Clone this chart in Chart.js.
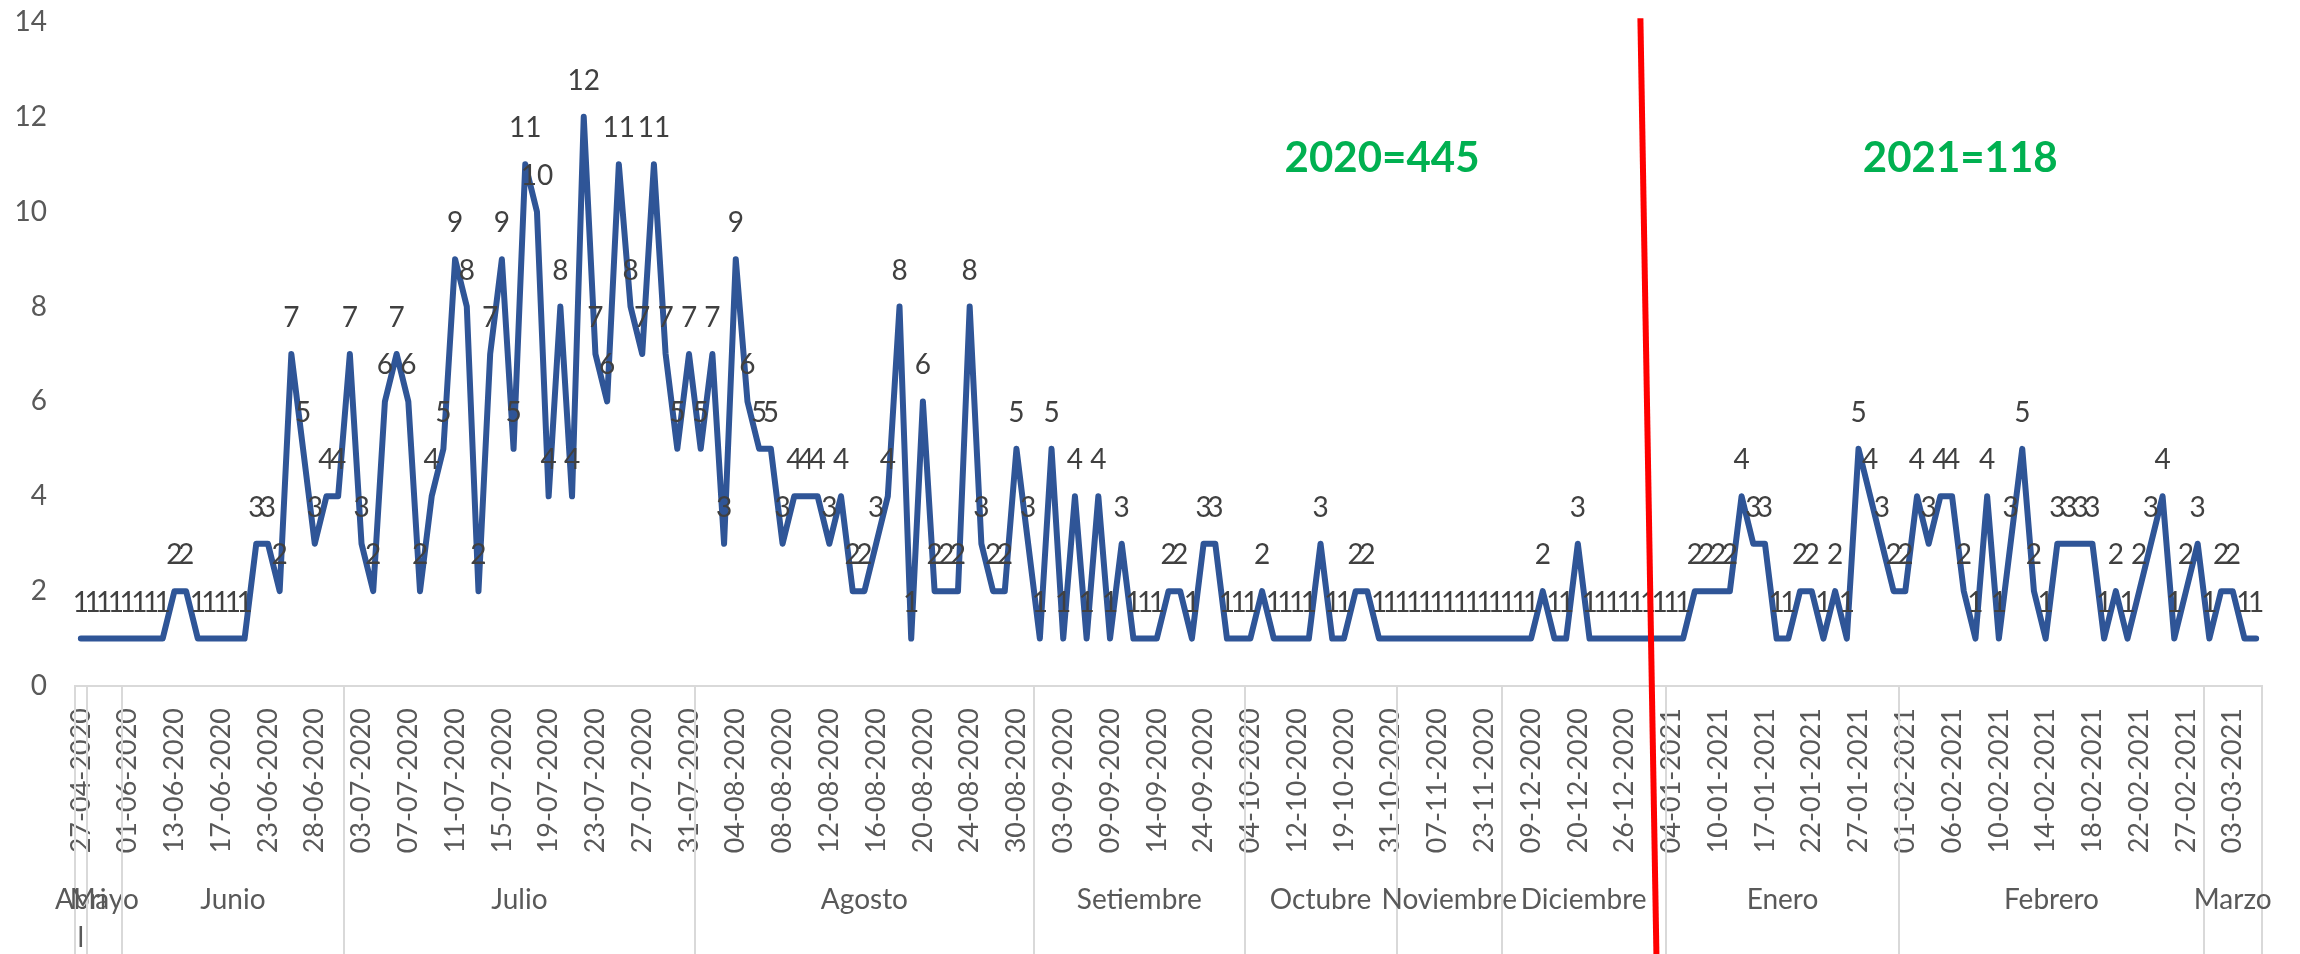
<!DOCTYPE html>
<html>
<head>
<meta charset="utf-8">
<script src="https://cdn.jsdelivr.net/npm/chart.js@4.4.1/dist/chart.umd.min.js"></script>
<style>
html,body{margin:0;padding:0;background:#ffffff;}
canvas{display:block;}
</style>
</head>
<body>
<canvas id="chart" width="2300" height="954"></canvas>
<script>
// ---------- DATA ----------
const monthNames = ["Abril","Mayo","Junio","Julio","Agosto","Setiembre","Octubre","Noviembre","Diciembre","Enero","Febrero","Marzo"];
const monthNumbers = [4,5,6,7,8,9,10,11,12,1,2,3];
const monthYears = [2020,2020,2020,2020,2020,2020,2020,2020,2020,2021,2021,2021];
const daysAbril = [27];
const daysMayo = [5,15,25];
const daysJunio = [1,5,9,11,13,14,15,16,17,19,20,22,23,24,25,26,28,29,30];
const daysJulio = [2,3,4,5,6,7,8,9,10,11,12,13,14,15,16,17,18,19,20,21,22,23,24,25,26,27,28,29,30,31];
const daysAgosto = [1,2,3,4,5,6,7,8,9,10,11,12,13,14,15,16,17,18,19,20,21,22,23,24,25,26,28,30,31];
const daysSetiembre = [1,2,3,4,5,7,9,10,11,12,14,16,18,21,24,25,28,30];
const daysOctubre = [4,5,7,9,12,14,16,18,19,21,23,26,31];
const daysNoviembre = [2,4,5,7,10,14,18,23,27];
const daysDiciembre = [3,6,9,11,14,17,20,22,23,24,26,28,29,30];
const daysEnero = [4,6,7,8,10,11,12,14,17,18,19,20,22,23,24,25,27,28,29,31];
const daysFebrero = [1,2,3,5,6,7,8,9,10,11,12,13,14,15,16,17,18,19,20,21,22,23,24,25,27,28];
const daysMarzo = [1,2,3,4,5];

const values2020 = [
  1,1,1,1,1,1,1,1,2,2,1,1,1,1,1,3,3,2,7,5,3,4,4,7,3,2,6,7,6,
  2,4,5,9,8,2,7,9,5,11,10,4,8,4,12,7,6,11,8,7,11,7,5,7,5,7,
  3,9,6,5,5,3,4,4,4,3,4,2,2,3,4,8,1,6,2,2,2,8,3,2,2,5,3,
  1,5,1,4,1,4,1,3,1,1,1,2,2,1,3,3,1,1,1,2,1,1,1,1,3,1,1,
  2,2,1,1,1,1,1,1,1,1,1,1,1,1,1,1,2,1,1,3,1,1,1,1,1,1,1
];
const values2021 = [
  1,1,2,2,2,2,4,3,3,1,1,2,2,1,2,1,5,4,3,2,
  2,4,3,4,4,2,1,4,1,3,5,2,1,3,3,3,3,1,2,1,2,3,4,1,2,3,
  1,2,2,1,1
];
const yTickMin = 0, yTickMax = 14, yTickStep = 2;
const dateLabelEvery = 4;

// ---------- built tables ----------
const daysByMonth = [daysAbril,daysMayo,daysJunio,daysJulio,daysAgosto,daysSetiembre,daysOctubre,daysNoviembre,daysDiciembre,daysEnero,daysFebrero,daysMarzo];
const monthCounts = daysByMonth.map(d => d.length);
const pad2 = n => (n < 10 ? '0' : '') + n;
const dates = [];
daysByMonth.forEach((days, m) => days.forEach(d => dates.push(pad2(d) + '-' + pad2(monthNumbers[m]) + '-' + monthYears[m])));
const values = values2020.concat(values2021);
const sum = a => a.reduce((s, v) => s + v, 0);
const yearTexts = ['2020=' + sum(values2020), '2021=' + sum(values2021)];

// ---------- annotation placement (in scale units) ----------
const yearTextAnchors = [{x: 111.26, y: 11.13}, {x: 160.7, y: 11.13}];
const divider = {xTop: 133.35, yTop: 14.08, xBottom: 134.72};

const FONT = 'Lato';

const overlay = {
  id: 'overlay',
  afterDatasetsDraw(chart) {
    const ctx = chart.ctx;
    const meta = chart.getDatasetMeta(0);
    ctx.save();
    ctx.font = '28px ' + FONT;
    ctx.fillStyle = '#404040';
    ctx.textAlign = 'center';
    ctx.textBaseline = 'middle';
    meta.data.forEach((pt, i) => ctx.fillText(String(values[i]), pt.x, pt.y - 36));
    ctx.restore();
  },
  afterDraw(chart) {
    const ctx = chart.ctx;
    const xs = chart.scales.x, ys = chart.scales.y;
    const half = (xs.getPixelForValue(1) - xs.getPixelForValue(0)) / 2;
    const axisY = chart.chartArea.bottom;
    const bottom = chart.height;
    ctx.save();
    // month separators and labels
    ctx.strokeStyle = '#D9D9D9';
    ctx.lineWidth = 2;
    ctx.font = '28px ' + FONT;
    ctx.fillStyle = '#595959';
    ctx.textAlign = 'center';
    ctx.textBaseline = 'middle';
    let start = 0;
    monthCounts.forEach((c, k) => {
      const x1 = xs.getPixelForValue(start) - half;
      const x2 = xs.getPixelForValue(start + c - 1) + half;
      ctx.beginPath(); ctx.moveTo(Math.round(x1), axisY); ctx.lineTo(Math.round(x1), bottom); ctx.stroke();
      if (k === monthCounts.length - 1) {
        ctx.beginPath(); ctx.moveTo(Math.round(x2), axisY); ctx.lineTo(Math.round(x2), bottom); ctx.stroke();
      }
      const name = monthNames[k];
      const w = x2 - x1;
      const cx = (x1 + x2) / 2;
      const lines = [];
      if (ctx.measureText(name).width > w * 3) {
        let cur = '';
        for (const ch of name) {
          if (cur && ctx.measureText(cur + ch).width > 55) { lines.push(cur); cur = ch; }
          else cur += ch;
        }
        lines.push(cur);
      } else lines.push(name);
      lines.forEach((ln, j) => ctx.fillText(ln, cx, 900 + j * 38));
      start += c;
    });
    // year totals
    ctx.font = 'bold 42px ' + FONT;
    ctx.fillStyle = '#00B050';
    yearTexts.forEach((t, j) => ctx.fillText(t, xs.getPixelForValue(yearTextAnchors[j].x), ys.getPixelForValue(yearTextAnchors[j].y)));
    // red divider
    ctx.strokeStyle = '#FF0000';
    ctx.lineWidth = 6;
    ctx.beginPath();
    ctx.moveTo(xs.getPixelForValue(divider.xTop), ys.getPixelForValue(divider.yTop));
    ctx.lineTo(xs.getPixelForValue(divider.xBottom), bottom);
    ctx.stroke();
    ctx.restore();
  }
};

function build() {
  Chart.defaults.font.family = FONT;
  new Chart(document.getElementById('chart').getContext('2d'), {
    type: 'line',
    data: {
      labels: dates,
      datasets: [{
        data: values,
        borderColor: '#2F5597',
        borderWidth: 6,
        pointRadius: 0,
        pointHoverRadius: 0,
        tension: 0,
        fill: false,
        borderJoinStyle: 'round',
        borderCapStyle: 'round'
      }]
    },
    options: {
      responsive: false,
      animation: false,
      devicePixelRatio: 1,
      layout: {padding: {top: 22, right: 38, left: 0, bottom: 0}},
      plugins: {legend: {display: false}, tooltip: {enabled: false}},
      scales: {
        x: {
          type: 'category',
          offset: true,
          grid: {display: false, drawTicks: false},
          border: {display: true, color: '#D9D9D9', width: 2},
          ticks: {
            autoSkip: false,
            minRotation: 90,
            maxRotation: 90,
            padding: 22,
            color: '#595959',
            font: {family: FONT, size: 27},
            callback: (v, i) => (i % dateLabelEvery === 0 ? dates[i] : '')
          },
          afterFit: s => { s.height = 268; s.paddingLeft = 0; s.paddingRight = 0; }
        },
        y: {
          min: yTickMin,
          max: yTickMax,
          grid: {display: false, drawTicks: false},
          border: {display: false},
          ticks: {stepSize: yTickStep, padding: 28, color: '#595959', font: {family: FONT, size: 28}},
          afterFit: s => { s.width = 75; s.paddingTop = 0; s.paddingBottom = 0; }
        }
      }
    },
    plugins: [overlay]
  });
}

Promise.all([document.fonts.load('28px Lato'), document.fonts.load('bold 42px Lato')]).then(build, build);
</script>
</body>
</html>
